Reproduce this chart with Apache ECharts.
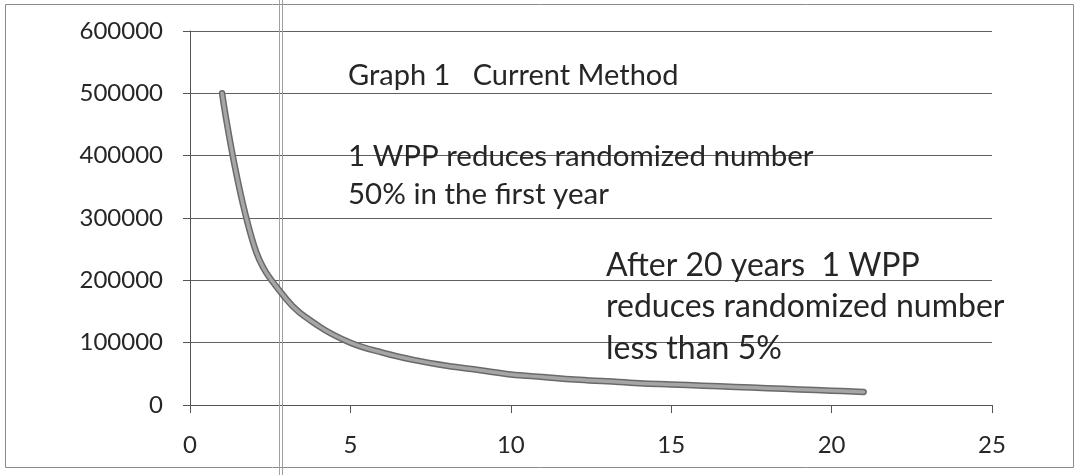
<!DOCTYPE html>
<html>
<head>
<meta charset="utf-8">
<script src="https://cdn.jsdelivr.net/npm/echarts@6/dist/echarts.min.js"></script>
<style>
html,body{margin:0;padding:0;background:#fff;}
#chart{width:1078px;height:475px;}
</style>
</head>
<body>
<div id="chart"></div>
<script>
// ---- data ----
var years = [1,2,3,4,5,6,7,8,9,10,11,12,13,14,15,16,17,18,19,20,21];
var remaining = [500000,255000,170000,127000,100000,84000,72000,63000,56000,49000,45000,41000,38000,35000,33000,31000,29000,27000,25000,23000,21000];
var xTicks = [0,5,10,15,20,25];
var yTicks = [0,100000,200000,300000,400000,500000,600000];
var titleText = 'Graph 1   Current Method';
var note1 = ['1 WPP reduces randomized number', '50% in the first year'];
var note2 = ['After 20 years  1 WPP', 'reduces randomized number', 'less than 5%'];

var pts = years.map(function (x, i) { return [x, remaining[i]]; });
var FONT = 'Lato';
var TXT = '#262626';

function textEl(str, x, y, size) {
  return {
    type: 'text', x: x, y: y, z: 10,
    style: { text: str, fill: TXT, font: size + 'px ' + FONT, textAlign: 'left', textVerticalAlign: 'middle' }
  };
}

var chart = echarts.init(document.getElementById('chart'), null, {renderer: 'canvas'});
chart.setOption({
  animation: false,
  backgroundColor: '#fff',
  grid: { left: 190, right: 86, top: 31, bottom: 70 },
  xAxis: {
    type: 'value', min: xTicks[0], max: xTicks[xTicks.length - 1], interval: 5,
    axisLine: { show: true, onZero: false, lineStyle: { color: '#555', width: 1 } },
    axisTick: { show: true, length: 8, lineStyle: { color: '#555' } },
    splitLine: { show: false },
    axisLabel: { color: TXT, fontFamily: FONT, fontSize: 24, margin: 28,
      formatter: function (v) { return String(v); } }
  },
  yAxis: {
    type: 'value', min: yTicks[0], max: yTicks[yTicks.length - 1], interval: 100000,
    axisLine: { show: true, lineStyle: { color: '#555', width: 1 } },
    axisTick: { show: true, length: 7, lineStyle: { color: '#555' } },
    splitLine: { show: true, lineStyle: { color: '#606060', width: 1 } },
    axisLabel: { color: TXT, fontFamily: FONT, fontSize: 24, margin: 27,
      formatter: function (v) { return String(v); } }
  },
  series: [
    { type: 'line', data: pts, smooth: 0.4, showSymbol: false, z: 3,
      lineStyle: { color: '#6a6a6a', width: 6.5, cap: 'round' } },
    { type: 'line', data: pts, smooth: 0.4, showSymbol: false, z: 4,
      lineStyle: { color: '#a6a6a6', width: 3.5, cap: 'round' } }
  ],
  graphic: [
    { type: 'rect', shape: { x: 5.5, y: 4.5, width: 1068, height: 463 }, z: 0,
      style: { fill: 'none', stroke: '#8a8a8a', lineWidth: 1 } },
    { type: 'line', shape: { x1: 279.5, y1: 0, x2: 279.5, y2: 475 }, z: 1,
      style: { stroke: '#a0a0a0', lineWidth: 1 } },
    { type: 'line', shape: { x1: 282.5, y1: 0, x2: 282.5, y2: 475 }, z: 1,
      style: { stroke: '#a0a0a0', lineWidth: 1 } },
    textEl(titleText, 348, 76, 29),
    textEl(note1[0], 348, 156, 29.5),
    textEl(note1[1], 348, 194, 29.5),
    textEl(note2[0], 606, 266, 32),
    textEl(note2[1], 606, 307, 32),
    textEl(note2[2], 606, 349, 32)
  ]
});
</script>
</body>
</html>
